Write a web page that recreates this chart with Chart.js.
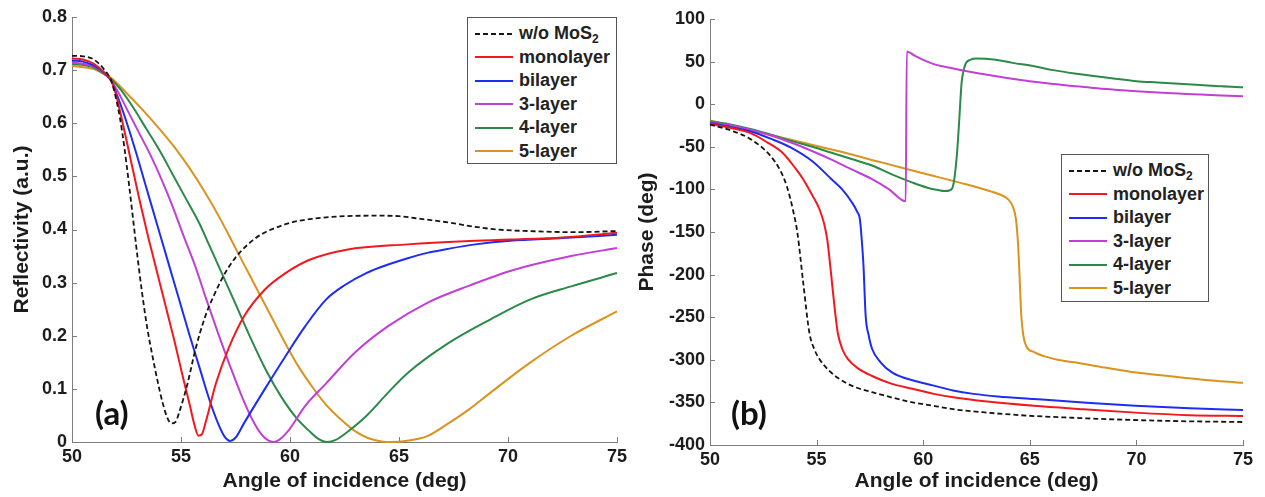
<!DOCTYPE html>
<html>
<head>
<meta charset="utf-8">
<script src="https://cdn.jsdelivr.net/npm/chart.js@4.4.1/dist/chart.umd.min.js"></script>
<style>
  html, body { margin: 0; padding: 0; background: #fff; }
  #wrap { position: relative; width: 1265px; height: 497px; overflow: hidden; }
  canvas { position: absolute; top: 0; }
  .legend { position: absolute; box-sizing: border-box; border: 1px solid #555; background: #fff;
            padding-top: 4px; font: bold 18px 'Liberation Sans', Arial, sans-serif; color: #222; }
  .row { height: 23.5px; display: flex; align-items: center; white-space: nowrap; }
  .row svg { flex: none; margin: 0 6px 0 7px; }
  .sub { font-size: 12px; position: relative; top: 4px; }
  .tag { position: absolute; font: bold 33px Lato, sans-serif; line-height: 1; color: #111; }
</style>
</head>
<body>
<div id="wrap">
  <canvas id="refl" width="632" height="497" style="left:0"></canvas>
  <canvas id="phase" width="633" height="497" style="left:632px"></canvas>
  <div class="legend" id="legA" style="left:467px;top:17px;width:150px;height:147px"></div>
  <div class="legend" id="legB" style="left:1061px;top:154px;width:148px;height:148px"></div>
  <div class="tag" style="left:95px;top:396px">(a)</div>
  <div class="tag" style="left:731px;top:396px">(b)</div>
</div>
<script>
// Reflectivity / phase vs angle of incidence, bare gold vs 1-5 MoS2 layers.

const SERIES = ["w/o MoS2", "monolayer", "bilayer", "3-layer", "4-layer", "5-layer"];
const COLORS = ["#151515", "#f2191e", "#1d2df2", "#c23fd6", "#2c8a48", "#da931f"];
const X_TICKS = { min: 50, max: 75, step: 5 };

// ----- (a) reflectivity -----
const reflWoX   = [50, 50.5, 51, 51.5, 51.8, 52, 52.2, 52.4, 52.6, 52.8, 53, 53.2, 53.45, 53.7, 53.95, 54.15, 54.35, 54.55, 54.75, 54.95, 55.3, 55.66, 56.1, 56.5, 57.2, 58.3, 59.8, 61, 62.5, 64, 65, 66, 67.3, 68.5, 69.5, 71, 73, 75];
const reflWoY   = [.727, .726, .72, .70, .68, .65, .61, .555, .49, .42, .35, .285, .215, .16, .11, .075, .048, .035, .038, .06, .11, .174, .235, .275, .33, .38, .41, .42, .425, .426, .425, .42, .413, .405, .40, .397, .395, .397];
const reflMonoX = [50, 50.5, 51, 51.5, 51.8, 52, 52.3, 52.7, 53.1, 53.5, 53.9, 54.3, 54.7, 55.1, 55.4, 55.6, 55.8, 55.95, 56.15, 56.6, 57.16, 57.9, 58.85, 59.8, 60.9, 62.6, 65.4, 68, 70.1, 72.5, 75];
const reflMonoY = [.722, .72, .712, .695, .68, .657, .605, .53, .455, .385, .32, .255, .19, .12, .07, .035, .012, .014, .04, .11, .174, .237, .287, .318, .343, .362, .372, .378, .381, .385, .394];
const reflBiX   = [50, 50.5, 51, 51.5, 51.8, 52, 52.4, 52.9, 53.4, 53.9, 54.4, 54.9, 55.4, 55.85, 56.3, 56.7, 57, 57.25, 57.5, 57.9, 58.85, 59.8, 60.7, 61.65, 62.5, 63.5, 64.5, 65.4, 66.3, 67.3, 68.5, 70.1, 72.5, 75];
const reflBiY   = [.718, .716, .709, .694, .68, .66, .615, .55, .48, .41, .34, .27, .20, .14, .08, .035, .01, .002, .008, .036, .10, .162, .218, .268, .295, .318, .334, .346, .356, .364, .372, .379, .384, .39];
const refl3X    = [50, 51, 51.5, 51.8, 52.1, 52.6, 53.1, 53.6, 54.1, 54.6, 55.1, 55.66, 56.15, 56.7, 57.25, 57.8, 58.3, 58.7, 59, 59.25, 59.5, 59.9, 60.7, 61.65, 62.97, 64.5, 66.3, 68.2, 70.1, 72.9, 75];
const refl3Y    = [.715, .707, .693, .68, .66, .62, .58, .54, .495, .445, .39, .33, .27, .205, .143, .085, .04, .014, .003, 0, .004, .02, .068, .11, .168, .218, .262, .294, .322, .35, .365];
const refl4X    = [50, 51, 51.5, 51.8, 52.2, 52.8, 53.4, 54, 54.6, 55.2, 55.8, 56.3, 56.9, 57.5, 58.2, 58.9, 59.6, 60.3, 60.9, 61.3, 61.7, 62.1, 62.6, 63.5, 64.5, 65.4, 67.3, 69.2, 71, 72.9, 75];
const refl4Y    = [.712, .705, .692, .683, .665, .63, .59, .55, .505, .46, .415, .37, .315, .26, .195, .135, .085, .045, .02, .006, 0, .004, .018, .049, .093, .13, .187, .231, .268, .293, .318];
const refl5X    = [50, 51, 51.5, 51.8, 52.5, 53.2, 54, 54.7, 55.4, 56.1, 56.8, 57.5, 58.2, 58.9, 59.6, 60.3, 61, 61.7, 62.4, 63, 63.6, 64.2, 64.7, 65.3, 66.3, 67.3, 68.2, 69.2, 71, 72.9, 75];
const refl5Y    = [.708, .702, .692, .685, .657, .627, .59, .555, .515, .47, .42, .365, .31, .255, .20, .148, .105, .068, .04, .02, .007, .001, 0, .002, .011, .036, .061, .093, .149, .20, .246];

// ----- (b) phase -----
const phaseWoX   = [50, 51, 51.9, 52.85, 53.3, 53.6, 53.9, 54.1, 54.37, 54.66, 54.9, 55.13, 55.6, 56.1, 56.8, 57.6, 58.5, 59.5, 60.5, 61.4, 63, 65.2, 67, 69, 72, 75];
const phaseWoY   = [-24, -31, -41, -61, -78, -96, -125, -151, -209, -268, -288, -299, -313, -323, -332, -338, -344, -350, -354, -358, -362, -366, -368, -370, -372, -373];
const phaseMonoX = [50, 51, 51.9, 52.7, 53.4, 54, 54.37, 54.8, 55.13, 55.35, 55.5, 55.62, 55.72, 55.85, 55.99, 56.2, 56.46, 57, 57.6, 58.5, 59.5, 60.5, 61.4, 63, 65.2, 67.5, 69.96, 72.5, 75];
const phaseMonoY = [-23, -28, -34, -45, -57, -75, -88, -107, -123, -140, -159, -185, -209, -240, -268, -287, -299, -311, -319, -328, -334, -340, -344, -349, -354, -358, -362, -365, -366];
const phaseBiX   = [50, 51, 51.9, 52.9, 53.8, 54.8, 55.7, 56.2, 56.65, 56.9, 57.03, 57.12, 57.2, 57.3, 57.45, 57.6, 58, 58.55, 59.5, 60.45, 61.4, 62.36, 63.5, 65.2, 67.5, 69.96, 72.5, 75];
const phaseBiY   = [-22, -27, -32, -41, -51, -67, -88, -100, -115, -126, -135, -160, -190, -248, -272, -287, -303, -315, -324, -330, -336, -340, -343, -346, -350, -354, -357, -359];
const phase3X    = [50, 51, 51.9, 52.9, 53.8, 54.7, 55.7, 56.6, 57.6, 58.4, 59.18, 59.23, 59.6, 60, 60.5, 61, 62, 63, 64, 65, 66, 67, 68, 69, 70, 71, 72, 73, 74, 75];
const phase3Y    = [-21, -25, -30, -37, -45, -54, -65, -76, -88, -100, -114, 62, 57, 52, 47, 44, 39, 34.5, 30.5, 27, 24, 21.5, 19, 17, 15.2, 13.7, 12.5, 11.3, 10.3, 9.4];
const phase4X    = [50, 51, 51.9, 52.9, 53.8, 54.8, 55.7, 56.6, 57.6, 58.5, 59.5, 60.2, 60.65, 61, 61.25, 61.4, 61.5, 61.6, 61.7, 61.8, 61.9, 62, 62.2, 62.5, 63.3, 64.2, 65.2, 66.1, 67.1, 68, 69, 70, 71, 72, 73, 74, 75];
const phase4Y    = [-20, -24, -29, -36, -43, -50, -57, -64, -72, -82, -92, -98, -100.5, -102, -101, -96, -80, -53, -15, 25, 40, 48, 52, 53.5, 52.5, 48.5, 44.5, 40, 36, 33, 30, 27, 25.5, 24, 22.5, 21, 20];
const phase5X    = [50, 52, 54, 56, 58, 60, 62, 63, 63.6, 64, 64.2, 64.35, 64.45, 64.5, 64.55, 64.6, 64.7, 64.83, 65.2, 65.7, 66.3, 67.1, 68.5, 70, 71.5, 73, 75];
const phase5Y    = [-19, -31, -43, -55, -68, -81, -94, -101, -106, -112, -120, -135, -165, -190, -220, -248, -272, -284, -291, -296, -300, -303, -309, -315, -319, -323, -327];

const REFL_X  = [reflWoX, reflMonoX, reflBiX, refl3X, refl4X, refl5X];
const REFL_Y  = [reflWoY, reflMonoY, reflBiY, refl3Y, refl4Y, refl5Y];
const PHASE_X = [phaseWoX, phaseMonoX, phaseBiX, phase3X, phase4X, phase5X];
const PHASE_Y = [phaseWoY, phaseMonoY, phaseBiY, phase3Y, phase4Y, phase5Y];

const AXIS = "#7d7d7d";
const TEXT = "#1c1c1c";
const FONT = "'Liberation Sans', Arial, sans-serif";

// MATLAB-style ticks pointing into the plot
const inwardTicks = {
  id: "inwardTicks",
  beforeDatasetsDraw(chart) {
    const { ctx, chartArea: a, scales: { x, y } } = chart;
    ctx.save();
    ctx.strokeStyle = AXIS;
    ctx.lineWidth = 1;
    ctx.beginPath();
    for (const t of x.ticks) {
      const px = Math.round(x.getPixelForValue(t.value)) + 0.5;
      ctx.moveTo(px, a.bottom); ctx.lineTo(px, a.bottom - 5);
    }
    for (const t of y.ticks) {
      const py = Math.round(y.getPixelForValue(t.value)) + 0.5;
      ctx.moveTo(a.left, py); ctx.lineTo(a.left + 5, py);
    }
    ctx.stroke();
    ctx.restore();
  }
};

function buildSets(xsList, ysList) {
  return xsList.map((xs, i) => ({
    label: SERIES[i],
    data: xs.map((x, j) => ({ x, y: ysList[i][j] })),
    borderColor: COLORS[i],
    borderWidth: i === 0 ? 1.8 : 2,
    borderDash: i === 0 ? [5, 3] : [],
    pointRadius: 0,
    cubicInterpolationMode: "monotone",
    fill: false,
    clip: false,
  }));
}

function makeChart(id, sets, yAxis, yTitle, g) {
  return new Chart(document.getElementById(id), {
    type: "line",
    data: { datasets: sets },
    plugins: [inwardTicks],
    options: {
      responsive: false,
      animation: false,
      events: [],
      layout: { padding: { left: 0, top: g.top, right: g.right, bottom: 0 } },
      plugins: { legend: { display: false }, tooltip: { enabled: false } },
      scales: {
        x: {
          type: "linear", min: X_TICKS.min, max: X_TICKS.max,
          ticks: { stepSize: X_TICKS.step, padding: 4, color: TEXT, font: { family: FONT, size: 18, weight: "bold" } },
          grid: { display: false, drawTicks: false, tickLength: 0 },
          border: { display: true, color: AXIS, width: 1 },
          title: { display: true, text: "Angle of incidence (deg)", color: TEXT,
                   font: { family: FONT, size: 21, weight: "bold" }, padding: { top: 0, bottom: 3 } },
          afterFit: (s) => { s.height = g.xh; },
        },
        y: {
          type: "linear", min: yAxis.min, max: yAxis.max,
          ticks: { stepSize: yAxis.step, padding: 5, color: TEXT, font: { family: FONT, size: 18, weight: "bold" } },
          grid: { display: false, drawTicks: false, tickLength: 0 },
          border: { display: true, color: AXIS, width: 1 },
          title: { display: true, text: yTitle, color: TEXT,
                   font: { family: FONT, size: 21, weight: "bold" }, padding: { top: g.tp, bottom: 0 } },
          afterFit: (s) => { s.width = g.yw; },
        },
      },
    },
  });
}

function fillLegend(id) {
  const box = document.getElementById(id);
  SERIES.forEach((name, i) => {
    const row = document.createElement("div");
    row.className = "row";
    const dash = i === 0 ? ' stroke-dasharray="5,3"' : "";
    const label = i === 0 ? 'w/o MoS<span class="sub">2</span>' : name;
    row.innerHTML = `<svg width="38" height="4"><line x1="0" y1="2" x2="38" y2="2" stroke="${COLORS[i]}" stroke-width="2"${dash}/></svg><span>${label}</span>`;
    box.appendChild(row);
  });
}

makeChart("refl", buildSets(REFL_X, REFL_Y), { min: 0, max: 0.8, step: 0.1 }, "Reflectivity (a.u.)",
          { top: 17, right: 15, yw: 72, xh: 55, tp: 10 });
makeChart("phase", buildSets(PHASE_X, PHASE_Y), { min: -400, max: 100, step: 50 }, "Phase (deg)",
          { top: 19, right: 22, yw: 78, xh: 52, tp: 3 });
fillLegend("legA");
fillLegend("legB");
</script>
</body>
</html>
